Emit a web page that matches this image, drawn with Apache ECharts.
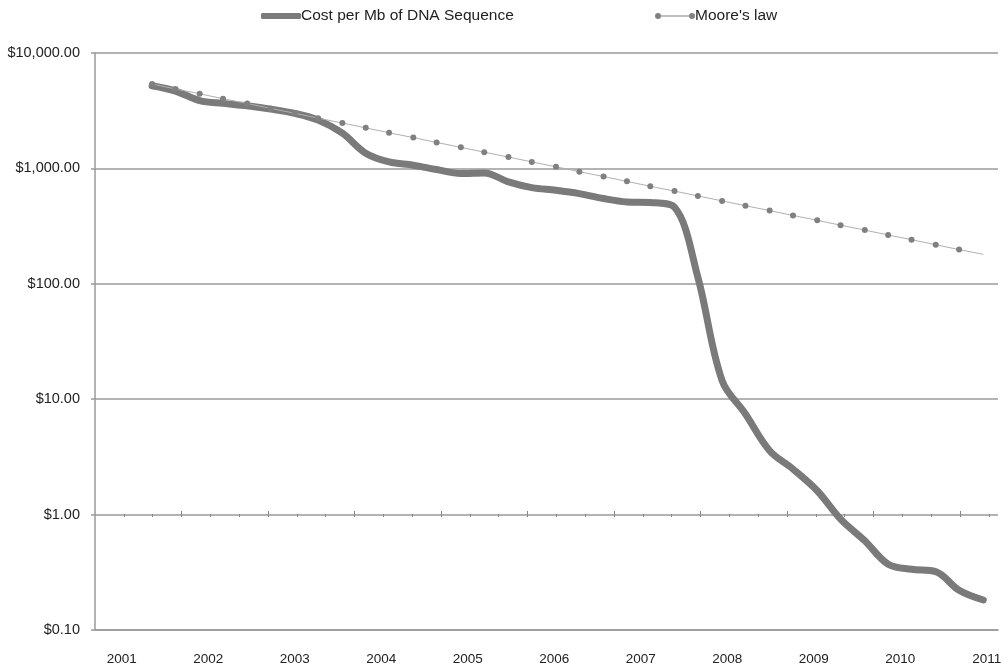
<!DOCTYPE html>
<html>
<head>
<meta charset="utf-8">
<title>Cost per Mb of DNA Sequence</title>
<script src="https://cdn.jsdelivr.net/npm/echarts@6/dist/echarts.min.js"></script>
<style>
  html, body { margin: 0; padding: 0; background: #fff; }
  #chart { width: 1003px; height: 669px; }
</style>
</head>
<body>
<div id="chart"></div>
<script>
// sample dates (decimal years) shared by both series
const sampleYears = [
    2001.35, 2001.62, 2001.90, 2002.17, 2002.45, 2002.72, 2003.00, 2003.27, 2003.55,
    2003.82, 2004.09, 2004.37, 2004.64, 2004.92, 2005.19, 2005.47, 2005.74, 2006.02,
    2006.29, 2006.57, 2006.84, 2007.11, 2007.39, 2007.66, 2007.94, 2008.21, 2008.49,
    2008.76, 2009.04, 2009.31, 2009.59, 2009.86, 2010.13, 2010.41, 2010.68, 2010.96
];

// cost per Mb, $
const costPerMb = [
    5200, 4680, 3870, 3660, 3490, 3265, 2997, 2620, 2020,
    1355, 1138, 1066, 977, 903, 914, 764, 682, 647,
    605, 548, 512, 506, 460, 114, 14.5, 7.45, 3.58,
    2.48, 1.61, 0.914, 0.593, 0.372, 0.336, 0.321, 0.221, 0.182
];

// Moore's law reference, $
const mooresLaw = [
    5380, 4882, 4430, 4020, 3648, 3311, 3004, 2726, 2474,
    2245, 2037, 1849, 1678, 1523, 1382, 1254, 1138, 1033,
    937, 850, 772, 700, 636, 577, 523, 475, 431,
    391, 355, 322, 292, 265, 241, 218, 198, 180
];

const yearLabels = [2001, 2002, 2003, 2004, 2005, 2006, 2007, 2008, 2009, 2010, 2011];

const X_MIN = 2000.69;
const X_MAX = 2011.13;

// tick marks on the $1.00 line: every 4 months, longer ones every year
let minorTicks = [];
let majorTicks = [];
for (let j = 1; j <= 31; j++) {
    minorTicks.push(X_MIN + j / 3);
    if (j % 3 === 0) majorTicks.push(X_MIN + j / 3);
}

const GRAY_LINE = '#9a9a9a';
const FONT = 'Liberation Sans, Arial, Helvetica, sans-serif';

function money(v) {
    let s = Number(v).toFixed(2);
    let parts = s.split('.');
    parts[0] = parts[0].replace(/\B(?=(\d{3})+(?!\d))/g, ',');
    return '$' + parts.join('.');
}

let costData = sampleYears.map((t, i) => [t, costPerMb[i]]);
// last Moore point has no marker in the original, only the line reaches it
let mooreData = sampleYears.map((t, i) => {
    let item = { value: [t, mooresLaw[i]] };
    if (i === sampleYears.length - 1) item.symbol = 'none';
    return item;
});

let tickAxis = (inside, values) => ({
    type: 'value',
    min: X_MIN,
    max: X_MAX,
    position: 'bottom',
    offset: -116,
    axisLine: { show: false },
    axisLabel: { show: false },
    splitLine: { show: false },
    axisTick: {
        show: true,
        inside: inside,
        length: 3,
        customValues: values,
        lineStyle: { color: '#888', width: 1 }
    }
});

let legendText = { fontSize: 15.5, color: '#222', fontFamily: FONT, padding: [0, 0, 0, -5] };

let option = {
    animation: false,
    backgroundColor: '#fff',
    textStyle: { fontFamily: FONT },
    legend: [
        {
            left: 256,
            top: 3,
            data: ['Cost per Mb of DNA Sequence'],
            icon: 'roundRect',
            itemWidth: 40,
            itemHeight: 6,
            textStyle: legendText
        },
        {
            left: 650,
            top: 3,
            data: ["Moore's law"],
            icon: 'path://M0,3a3,3 0 1,0 6,0a3,3 0 1,0 -6,0z M6,2.6h28v0.8h-28z M34,3a3,3 0 1,0 6,0a3,3 0 1,0 -6,0z',
            itemWidth: 40,
            itemHeight: 6,
            textStyle: legendText
        }
    ],
    grid: {
        left: 95,
        right: 5,
        top: 53,
        bottom: 39,
        outerBoundsMode: 'none'
    },
    xAxis: [
        {
            type: 'value',
            min: X_MIN,
            max: X_MAX,
            position: 'bottom',
            axisLine: { show: true, lineStyle: { color: GRAY_LINE, width: 1.5 } },
            axisTick: { show: false },
            splitLine: { show: false },
            axisLabel: {
                customValues: yearLabels,
                formatter: (v) => String(Math.round(v)),
                margin: 22,
                fontSize: 13.5,
                color: '#222',
                fontFamily: FONT
            }
        },
        tickAxis(false, minorTicks),
        tickAxis(true, majorTicks)
    ],
    yAxis: {
        type: 'log',
        logBase: 10,
        min: 0.1,
        max: 10000,
        interval: 1,
        axisLine: { show: true, lineStyle: { color: GRAY_LINE, width: 1.5 } },
        axisTick: { show: true, length: 4, lineStyle: { color: GRAY_LINE, width: 1.5 } },
        splitLine: { show: true, lineStyle: { color: GRAY_LINE, width: 1.5 } },
        axisLabel: {
            formatter: money,
            margin: 15,
            fontSize: 14.5,
            color: '#222',
            fontFamily: FONT
        }
    },
    series: [
        {
            name: 'Cost per Mb of DNA Sequence',
            type: 'line',
            data: costData,
            smooth: 0.35,
            showSymbol: false,
            lineStyle: { color: '#7a7a7a', width: 7, cap: 'round', join: 'round' },
            itemStyle: { color: '#7a7a7a' },
            z: 2
        },
        {
            name: "Moore's law",
            type: 'line',
            data: mooreData,
            symbol: 'circle',
            symbolSize: 6,
            lineStyle: { color: '#b0b0b0', width: 1 },
            itemStyle: { color: '#808080' },
            z: 3
        }
    ]
};

let chart = echarts.init(document.getElementById('chart'), null, { renderer: 'canvas' });
chart.setOption(option);
</script>
</body>
</html>
